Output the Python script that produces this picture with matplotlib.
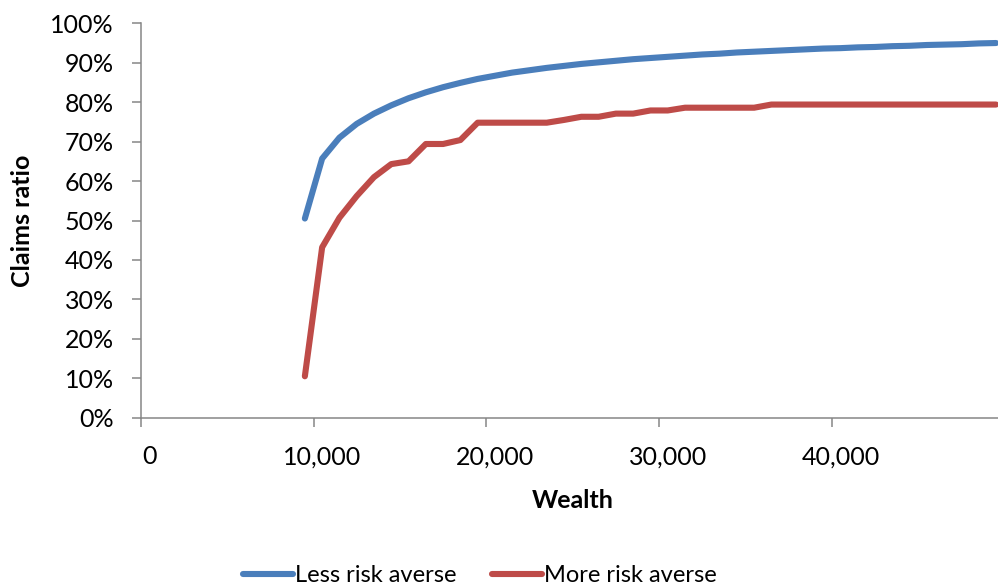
import numpy as np
import matplotlib
matplotlib.use('Agg')
import matplotlib.pyplot as plt
from matplotlib.ticker import FixedLocator, NullFormatter

plt.rcParams['font.family'] = ['Lato', 'DejaVu Sans']

# wealth categories (Excel line chart, one category per 1,000)
wealth = [9000, 10000, 11000, 12000, 13000, 14000, 15000, 16000, 17000, 18000,
          19000, 20000, 21000, 22000, 23000, 24000, 25000, 26000, 27000, 28000,
          29000, 30000, 31000, 32000, 33000, 34000, 35000, 36000, 37000, 38000,
          39000, 40000, 41000, 42000, 43000, 44000, 45000, 46000, 47000, 48000,
          49000]

less_averse = [0.505, 0.657, 0.710, 0.745, 0.771, 0.792, 0.810, 0.825, 0.838, 0.849,
               0.859, 0.867, 0.875, 0.881, 0.887, 0.892, 0.897, 0.901, 0.905, 0.909,
               0.912, 0.915, 0.918, 0.921, 0.923, 0.926, 0.928, 0.930, 0.932, 0.934,
               0.936, 0.937, 0.939, 0.940, 0.942, 0.943, 0.945, 0.946, 0.947, 0.949,
               0.950]

more_averse = [0.105, 0.432, 0.507, 0.562, 0.610, 0.643, 0.650, 0.694, 0.694, 0.704,
               0.748, 0.748, 0.748, 0.748, 0.748, 0.755, 0.763, 0.763, 0.771, 0.771,
               0.779, 0.779, 0.786, 0.786, 0.786, 0.786, 0.786, 0.794, 0.794, 0.794,
               0.794, 0.794, 0.794, 0.794, 0.794, 0.794, 0.794, 0.794, 0.794, 0.794,
               0.794]

xlabels = ['0', '10,000', '20,000', '30,000', '40,000']
ylabels = ['0%', '10%', '20%', '30%', '40%', '50%', '60%', '70%', '80%', '90%', '100%']

W, H = 998, 588
fig = plt.figure(figsize=(W / 100, H / 100), dpi=100, facecolor='white')
# plot area of the original excel chart runs a bit past the right edge
ax = fig.add_axes([140.7 / W, (H - 417.7) / H, 864 / W, 394.4 / H])

ax.plot(wealth, less_averse, color='#4A7EBB', lw=4.4, solid_capstyle='round',
        solid_joinstyle='round', label='Less risk averse')
ax.plot(wealth, more_averse, color='#BE4B48', lw=4.4, solid_capstyle='round',
        solid_joinstyle='round', label='More risk averse')

ax.set_xlim(-500, 49500)
ax.set_ylim(0, 1)

for s in ['top', 'right']:
    ax.spines[s].set_visible(False)
for s in ['left', 'bottom']:
    ax.spines[s].set_color('#868686')
    ax.spines[s].set_linewidth(1.1)

# tick marks sit between categories, labels sit on the category
ax.xaxis.set_major_locator(FixedLocator([-500, 9500, 19500, 29500, 39500]))
ax.xaxis.set_major_formatter(NullFormatter())
ax.xaxis.set_minor_locator(FixedLocator([0, 10000, 20000, 30000, 40000]))
ax.set_xticklabels(xlabels, minor=True)
ax.tick_params(axis='x', which='major', length=6.5, width=1.1, color='#868686')
ax.tick_params(axis='x', which='minor', length=0, pad=20, labelsize=18)

ax.set_yticks(np.arange(0, 1.01, 0.1))
ax.set_yticklabels(ylabels)
ax.tick_params(axis='y', length=6.5, width=1.1, color='#868686', pad=13, labelsize=18)

ax.set_xlabel('Wealth', fontsize=18, fontweight='bold')
ax.set_ylabel('Claims ratio', fontsize=18, fontweight='bold')
ax.yaxis.set_label_coords((22 - 140.7) / 864, 0.5)
ax.xaxis.set_label_coords((572.7 - 140.7) / 864, -(500 - 417.7) / 394.4)
ax.xaxis.label.set_va('center')
ax.yaxis.label.set_va('center')

fig.legend(loc='center', bbox_to_anchor=(480 / W, 12 / H), ncol=2, frameon=False,
           fontsize=17, handlelength=2.1, handletextpad=0.1, columnspacing=1.5)

fig.savefig('out.png', dpi=100, facecolor='white')
